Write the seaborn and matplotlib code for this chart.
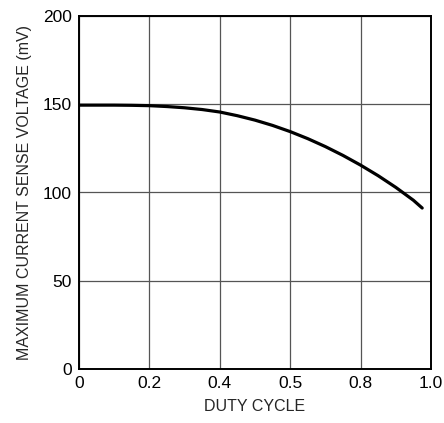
import matplotlib
matplotlib.use("Agg")
import matplotlib.pyplot as plt
import seaborn as sns
import pandas as pd

duty = [0, 0.05, 0.1, 0.15, 0.2, 0.25, 0.3, 0.35, 0.4, 0.45, 0.5,
        0.55, 0.6, 0.65, 0.7, 0.75, 0.8, 0.85, 0.9, 0.95, 0.975]
voltage = [149.5, 149.5, 149.5, 149.4, 149.2, 148.7, 148.0, 147.0, 145.6, 143.5, 141.0,
           138.0, 134.5, 130.5, 126.0, 121.0, 115.5, 109.5, 102.9, 95.6, 91.2]
x_ticks = [0, 0.2, 0.4, 0.6, 0.8, 1.0]
x_labels = ["0", "0.2", "0.4", "0.5", "0.8", "1.0"]
y_ticks = [0, 50, 100, 150, 200]
y_labels = ["0", "50", "100", "150", "200"]

sns.set_style("white")
plt.rcParams['font.family'] = ['Liberation Sans', 'DejaVu Sans']

df = pd.DataFrame({"duty": duty, "voltage": voltage})
fig = plt.figure(figsize=(4.44, 4.23), dpi=100)
ax = fig.add_axes([79/444, 54/423, 352/444, 353/423])
sns.lineplot(data=df, x="duty", y="voltage", ax=ax, color="black", linewidth=2.3)
ax.set_xlim(0, 1)
ax.set_ylim(0, 200)
ax.set_xticks(x_ticks)
ax.set_xticklabels(x_labels)
ax.set_yticks(y_ticks)
ax.set_yticklabels(y_labels)
ax.grid(True, color="#555555", linewidth=0.9)
ax.set_axisbelow(True)
for s in ax.spines.values():
    s.set_color("black")
    s.set_linewidth(1.4)
ax.tick_params(length=0, labelsize=12.5, pad=5, colors="black")
ax.set_xlabel("DUTY CYCLE", fontsize=11.5, labelpad=6)
ax.set_ylabel("MAXIMUM CURRENT SENSE VOLTAGE (mV)", fontsize=11.5, labelpad=8)
fig.savefig("out.png", dpi=100)
